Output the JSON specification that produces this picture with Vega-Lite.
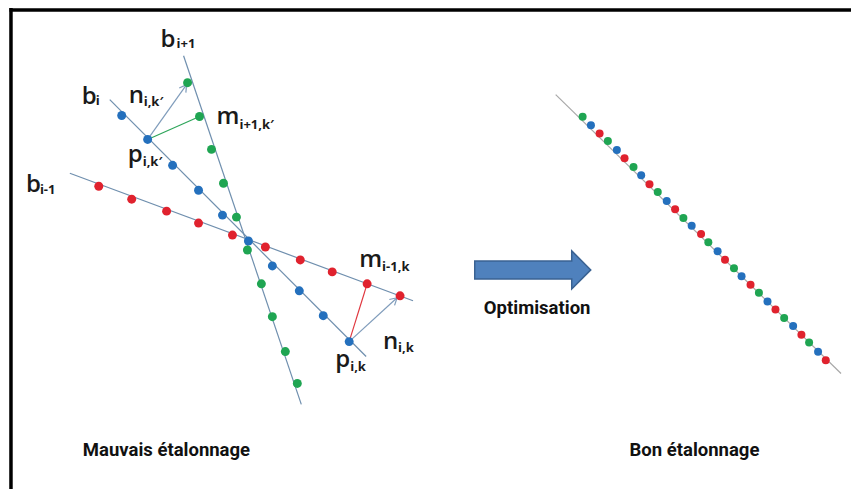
{
  "$schema": "https://vega.github.io/schema/vega-lite/v6.json",
  "width": 853,
  "height": 491,
  "autosize": {"type": "fit", "contains": "padding"},
  "padding": 0,
  "background": "white",
  "config": {"view": {"stroke": null}},
  "datasets": {
    "cadre": [
      {"x": 11, "y": 8, "x2": 11, "y2": 491},
      {"x": 9.5, "y": 10, "x2": 853, "y2": 10}
    ],
    "segments": [
      {"x": 184, "y": 56, "x2": 302, "y2": 406, "k": "faisceau"},
      {"x": 110, "y": 100, "x2": 367, "y2": 358, "k": "faisceau"},
      {"x": 70, "y": 174, "x2": 414, "y2": 302, "k": "faisceau"},
      {"x": 557, "y": 95, "x2": 843, "y2": 375, "k": "droite"},
      {"x": 148, "y": 140, "x2": 200, "y2": 117, "k": "vert"},
      {"x": 350, "y": 343, "x2": 368, "y2": 285, "k": "rouge"},
      {"x": 148, "y": 140, "x2": 187, "y2": 85, "k": "normale"},
      {"x": 179.7, "y": 88.4, "x2": 187, "y2": 85, "k": "normale"},
      {"x": 186.3, "y": 93, "x2": 187, "y2": 85, "k": "normale"},
      {"x": 350, "y": 343, "x2": 398, "y2": 299, "k": "normale"},
      {"x": 390.2, "y": 300.7, "x2": 398, "y2": 299, "k": "normale"},
      {"x": 395.5, "y": 306.6, "x2": 398, "y2": 299, "k": "normale"}
    ],
    "dots": [
      {"x": 99, "y": 187, "c": "rouge", "s": "gauche"},
      {"x": 132, "y": 200, "c": "rouge", "s": "gauche"},
      {"x": 167, "y": 212, "c": "rouge", "s": "gauche"},
      {"x": 199, "y": 224, "c": "rouge", "s": "gauche"},
      {"x": 233, "y": 236, "c": "rouge", "s": "gauche"},
      {"x": 266, "y": 248, "c": "rouge", "s": "gauche"},
      {"x": 301, "y": 261, "c": "rouge", "s": "gauche"},
      {"x": 333, "y": 273, "c": "rouge", "s": "gauche"},
      {"x": 368, "y": 285, "c": "rouge", "s": "gauche"},
      {"x": 401, "y": 297, "c": "rouge", "s": "gauche"},
      {"x": 122, "y": 116, "c": "bleu", "s": "gauche"},
      {"x": 148, "y": 140, "c": "bleu", "s": "gauche"},
      {"x": 173, "y": 166, "c": "bleu", "s": "gauche"},
      {"x": 199, "y": 191, "c": "bleu", "s": "gauche"},
      {"x": 223, "y": 216, "c": "bleu", "s": "gauche"},
      {"x": 249, "y": 242, "c": "bleu", "s": "gauche"},
      {"x": 273, "y": 267, "c": "bleu", "s": "gauche"},
      {"x": 300, "y": 292, "c": "bleu", "s": "gauche"},
      {"x": 324, "y": 317, "c": "bleu", "s": "gauche"},
      {"x": 350, "y": 343, "c": "bleu", "s": "gauche"},
      {"x": 188, "y": 83, "c": "vert", "s": "gauche"},
      {"x": 200, "y": 117, "c": "vert", "s": "gauche"},
      {"x": 212, "y": 150, "c": "vert", "s": "gauche"},
      {"x": 224, "y": 184, "c": "vert", "s": "gauche"},
      {"x": 237, "y": 218, "c": "vert", "s": "gauche"},
      {"x": 248, "y": 251, "c": "vert", "s": "gauche"},
      {"x": 262, "y": 285, "c": "vert", "s": "gauche"},
      {"x": 273, "y": 318, "c": "vert", "s": "gauche"},
      {"x": 286, "y": 353, "c": "vert", "s": "gauche"},
      {"x": 298, "y": 385, "c": "vert", "s": "gauche"},
      {"x": 584.0, "y": 117.3, "c": "vert", "s": "droite"},
      {"x": 592.3, "y": 125.7, "c": "bleu", "s": "droite"},
      {"x": 601.0, "y": 134.0, "c": "rouge", "s": "droite"},
      {"x": 609.3, "y": 141.7, "c": "vert", "s": "droite"},
      {"x": 618.3, "y": 150.7, "c": "bleu", "s": "droite"},
      {"x": 626.0, "y": 159.0, "c": "rouge", "s": "droite"},
      {"x": 635.0, "y": 167.7, "c": "vert", "s": "droite"},
      {"x": 642.7, "y": 176.0, "c": "bleu", "s": "droite"},
      {"x": 651.0, "y": 185.0, "c": "rouge", "s": "droite"},
      {"x": 659.3, "y": 192.7, "c": "vert", "s": "droite"},
      {"x": 668.3, "y": 201.7, "c": "bleu", "s": "droite"},
      {"x": 676.7, "y": 210.0, "c": "rouge", "s": "droite"},
      {"x": 685.0, "y": 219.0, "c": "vert", "s": "droite"},
      {"x": 693.3, "y": 226.7, "c": "bleu", "s": "droite"},
      {"x": 702.7, "y": 235.0, "c": "rouge", "s": "droite"},
      {"x": 710.0, "y": 243.3, "c": "vert", "s": "droite"},
      {"x": 719.3, "y": 252.3, "c": "bleu", "s": "droite"},
      {"x": 726.7, "y": 260.7, "c": "rouge", "s": "droite"},
      {"x": 735.7, "y": 269.3, "c": "vert", "s": "droite"},
      {"x": 743.3, "y": 277.3, "c": "bleu", "s": "droite"},
      {"x": 752.3, "y": 286.0, "c": "rouge", "s": "droite"},
      {"x": 760.7, "y": 294.0, "c": "vert", "s": "droite"},
      {"x": 769.3, "y": 302.7, "c": "bleu", "s": "droite"},
      {"x": 777.3, "y": 310.7, "c": "rouge", "s": "droite"},
      {"x": 786.0, "y": 319.3, "c": "vert", "s": "droite"},
      {"x": 795.0, "y": 327.3, "c": "bleu", "s": "droite"},
      {"x": 803.3, "y": 336.0, "c": "rouge", "s": "droite"},
      {"x": 811.0, "y": 344.0, "c": "vert", "s": "droite"},
      {"x": 820.0, "y": 353.3, "c": "bleu", "s": "droite"},
      {"x": 827.7, "y": 361.7, "c": "rouge", "s": "droite"}
    ],
    "fleche": [{"x": 534, "y": 271}],
    "labels": [
      {"x": 161, "y": 47, "t": "b", "sx": 177, "sy": 48, "s": "i+1"},
      {"x": 82, "y": 104, "t": "b", "sx": 96, "sy": 105, "s": "i"},
      {"x": 129, "y": 103, "t": "n", "sx": 144, "sy": 106, "s": "i,k′"},
      {"x": 217, "y": 125, "t": "m", "sx": 240, "sy": 130, "s": "i+1,k′"},
      {"x": 128, "y": 163, "t": "p", "sx": 143, "sy": 167, "s": "i,k′"},
      {"x": 26, "y": 193, "t": "b", "sx": 40, "sy": 195, "s": "i-1"},
      {"x": 360, "y": 268, "t": "m", "sx": 383, "sy": 272, "s": "i-1,k"},
      {"x": 384, "y": 350, "t": "n", "sx": 399, "sy": 353, "s": "i,k"},
      {"x": 336, "y": 368, "t": "p", "sx": 351, "sy": 373, "s": "i,k"}
    ],
    "titres": [
      {"x": 83, "y": 458, "t": "Mauvais étalonnage"},
      {"x": 631, "y": 458, "t": "Bon étalonnage"},
      {"x": 485, "y": 315, "t": "Optimisation"}
    ]
  },
  "encoding": {
    "x": {"field": "x", "type": "quantitative", "axis": null, "scale": {"domain": [0, 853], "nice": false, "zero": false}},
    "y": {"field": "y", "type": "quantitative", "axis": null, "scale": {"domain": [0, 491], "nice": false, "zero": false, "reverse": true}}
  },
  "layer": [
    {
      "data": {"name": "cadre"},
      "mark": {"type": "rule", "color": "#000000", "strokeWidth": 3.5},
      "encoding": {"x2": {"field": "x2"}, "y2": {"field": "y2"}}
    },
    {
      "data": {"name": "segments"},
      "mark": {"type": "rule", "strokeWidth": 1.2},
      "encoding": {
        "x2": {"field": "x2"},
        "y2": {"field": "y2"},
        "stroke": {"field": "k", "type": "nominal", "legend": null,
          "scale": {"domain": ["faisceau", "droite", "vert", "rouge", "normale"],
                    "range": ["#6f8fae", "#a8a8a8", "#2ea55a", "#e0363e", "#7f9cbb"]}}
      }
    },
    {
      "data": {"name": "dots"},
      "mark": {"type": "point", "filled": true, "opacity": 1, "shape": "circle"},
      "encoding": {
        "fill": {"field": "c", "type": "nominal", "legend": null,
          "scale": {"domain": ["rouge", "vert", "bleu"], "range": ["#e0222e", "#1fa552", "#2470bd"]}},
        "size": {"field": "s", "type": "nominal", "legend": null,
          "scale": {"domain": ["gauche", "droite"], "range": [80, 64]}}
      }
    },
    {
      "data": {"name": "fleche"},
      "mark": {"type": "point", "filled": true, "opacity": 1, "fill": "#4f81bd", "stroke": "#3a6292", "strokeWidth": 1.5,
        "size": 13456,
        "shape": "M-1,-0.155L0.672,-0.155L0.672,-0.328L1,0L0.672,0.328L0.672,0.155L-1,0.155Z"}
    },
    {
      "data": {"name": "labels"},
      "mark": {"type": "text", "align": "left", "baseline": "alphabetic", "font": "Open Sans", "fontSize": 24, "fontWeight": 600, "color": "#1a1a1a"},
      "encoding": {"text": {"field": "t"}}
    },
    {
      "data": {"name": "labels"},
      "mark": {"type": "text", "align": "left", "baseline": "alphabetic", "font": "Open Sans", "fontSize": 13, "fontWeight": "bold", "color": "#1a1a1a"},
      "encoding": {
        "x": {"field": "sx", "type": "quantitative"},
        "y": {"field": "sy", "type": "quantitative"},
        "text": {"field": "s"}
      }
    },
    {
      "data": {"name": "titres"},
      "mark": {"type": "text", "align": "left", "baseline": "alphabetic", "font": "Roboto", "fontSize": 18.5, "fontWeight": "bold", "color": "#111111"},
      "encoding": {"text": {"field": "t"}}
    }
  ]
}
